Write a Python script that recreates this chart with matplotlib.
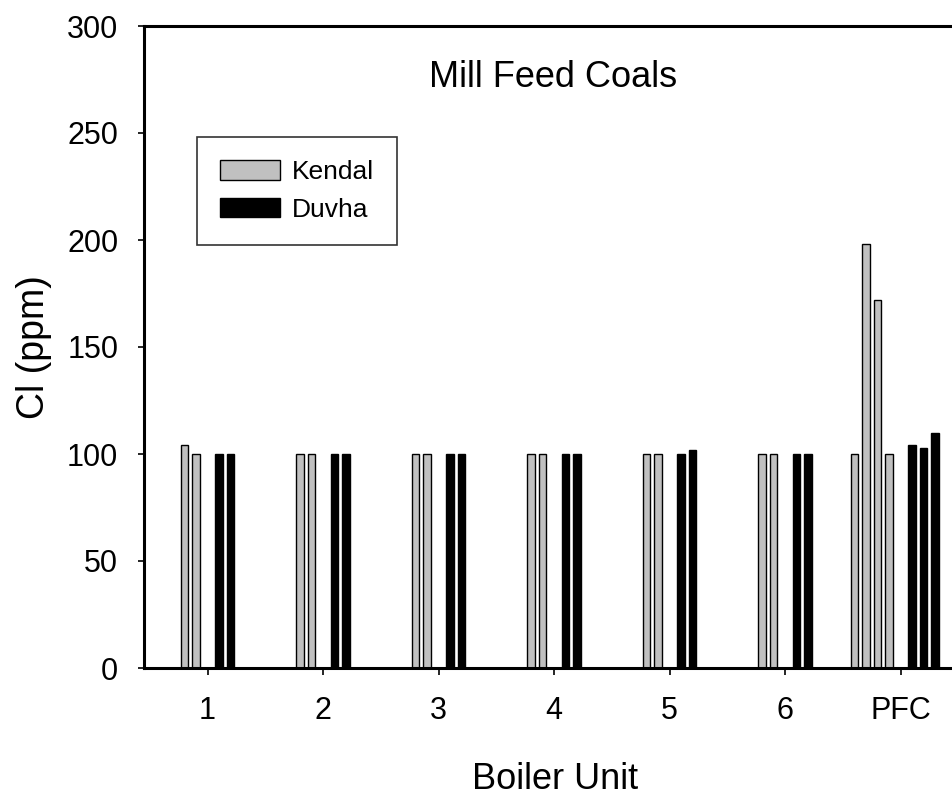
import matplotlib
matplotlib.use("Agg")
import matplotlib.pyplot as plt
import numpy as np

plt.rcParams['font.family'] = ['Liberation Sans', 'DejaVu Sans']

# ---- data ----
units = ['1', '2', '3', '4', '5', '6', 'PFC']
kendal = [[104, 100], [100, 100], [100, 100], [100, 100], [100, 100], [100, 100],
          [100, 198, 172, 100]]
duvha = [[100, 100], [100, 100], [100, 100], [100, 100], [100, 102], [100, 100],
         [104, 103, 110]]
title = 'Mill Feed Coals'
xlabel = 'Boiler Unit'
ylabel = 'Cl (ppm)'
yticks = [0, 50, 100, 150, 200, 250, 300]

# ---- layout ----
slot = 0.1
barw = 0.066
kendal_color = '#c0c0c0'
duvha_color = 'black'

fig = plt.figure(figsize=(9.53, 7.97), dpi=100)
W, H = 953, 797
ax_left, ax_right, ax_top, ax_bottom = 144, 964, 26, 668
ax = fig.add_axes([ax_left / W, 1 - ax_bottom / H, (ax_right - ax_left) / W, (ax_bottom - ax_top) / H])

xpos = np.arange(1, len(units) + 1)
for i, x in enumerate(xpos):
    kv = kendal[i]
    n = len(kv)
    koff = np.array([-(n - j) * slot for j in range(n)])
    ax.bar(x + koff, kv, width=barw, color=kendal_color, edgecolor='black', linewidth=1.0,
           label='Kendal' if i == 0 else None, zorder=2)
    dv = duvha[i]
    doff = np.array([(j + 1) * slot for j in range(len(dv))])
    ax.bar(x + doff, dv, width=barw, color=duvha_color, edgecolor='black', linewidth=1.0,
           label='Duvha' if i == 0 else None, zorder=2)

ax.set_xlim(0.45, 0.45 + (ax_right - ax_left) / 115.5)
ax.set_ylim(0, 300)
ax.set_xticks(xpos)
ax.set_xticklabels(units)
ax.set_yticks(yticks)

for s in ['left', 'top', 'bottom']:
    ax.spines[s].set_linewidth(2.2)
ax.spines['right'].set_visible(False)

ax.tick_params(axis='y', direction='out', length=4.5, width=1.2, pad=14, labelsize=22)
ax.tick_params(axis='x', direction='out', length=5, width=1.2, pad=15, labelsize=22)

ax.set_xlabel(xlabel, fontsize=26)
ax.xaxis.set_label_coords((555 - ax_left) / (ax_right - ax_left), (ax_bottom - 762) / (ax_bottom - ax_top))
ax.set_ylabel(ylabel, fontsize=27)
ax.yaxis.set_label_coords((52 - ax_left) / (ax_right - ax_left), 0.5)

ax.text((553.5 - ax_left) / (ax_right - ax_left), (ax_bottom - 86.7) / (ax_bottom - ax_top), title,
        transform=ax.transAxes, ha='center', va='baseline', fontsize=26)

leg = ax.legend(loc='upper left',
                bbox_to_anchor=((197 - ax_left) / (ax_right - ax_left), (ax_bottom - 137) / (ax_bottom - ax_top)),
                borderaxespad=0, fontsize=19, frameon=True, fancybox=False,
                handlelength=2.25, handleheight=0.74, handletextpad=0.45,
                borderpad=0.88, labelspacing=0.52)
leg.get_frame().set_edgecolor('black')
leg.get_frame().set_linewidth(1.2)

fig.savefig('out.png', dpi=100)
